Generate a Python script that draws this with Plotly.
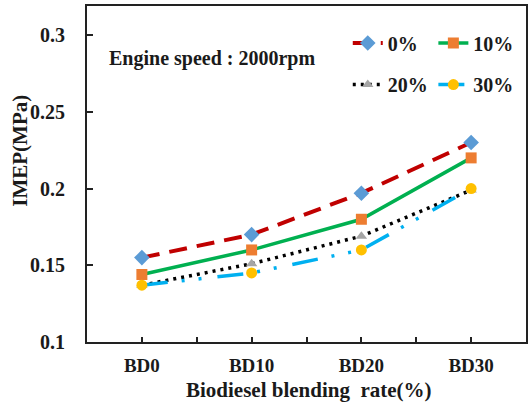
import plotly.graph_objects as go

# IMEP versus biodiesel blending rate at 2000 rpm, one series per additive ratio
categories = ["BD0", "BD10", "BD20", "BD30"]
series_names = ["0%", "10%", "20%", "30%"]
imep_0 = [0.155, 0.170, 0.197, 0.230]
imep_10 = [0.144, 0.160, 0.180, 0.220]
imep_20 = [0.137, 0.151, 0.169, 0.199]
imep_30 = [0.137, 0.145, 0.160, 0.200]
y_ticks = [0.1, 0.15, 0.2, 0.25, 0.3]
y_tick_labels = ["0.1", "0.15", "0.2", "0.25", "0.3"]

FONT = "Liberation Serif"
INK = "#1a1a1a"
x_pos = list(range(len(categories)))

styles = [
    dict(values=imep_0, line=dict(color="#C00000", width=4, dash="18px,10px"),
         marker=dict(symbol="diamond", size=12, color="#5B9BD5")),
    dict(values=imep_10, line=dict(color="#00B050", width=3.5, dash="solid"),
         marker=dict(symbol="square", size=11, color="#ED7D31")),
    dict(values=imep_20, line=dict(color="#000000", width=3.5, dash="3px,5px"),
         marker=dict(symbol="triangle-up", size=10, color="#A5A5A5")),
    dict(values=imep_30, line=dict(color="#00B0F0", width=3.5, dash="26px,14px,3px,14px,3px,16px"),
         marker=dict(symbol="circle", size=11, color="#FFC000")),
]

# Each series gets its own single-entry legend so the 2x2 key sits in the corner
legend_ids = ["legend", "legend2", "legend3", "legend4"]
legend_pos = [(0.594, 0.89), (0.789, 0.89), (0.594, 0.766), (0.789, 0.766)]

fig = go.Figure()
for name, st, lid in zip(series_names, styles, legend_ids):
    fig.add_trace(go.Scatter(
        x=x_pos, y=st["values"], name=name, mode="lines+markers",
        line=st["line"], marker=st["marker"], legend=lid,
    ))

legend_common = dict(
    font=dict(family=FONT, size=20, color=INK, weight="bold"),
    bgcolor="rgba(0,0,0,0)", borderwidth=0,
    xanchor="left", yanchor="middle", itemwidth=30,
)
layout_legends = {}
for lid, (lx, ly) in zip(legend_ids, legend_pos):
    layout_legends[lid] = dict(legend_common, x=lx, y=ly)

fig.update_layout(
    width=532, height=406,
    margin=dict(l=87, r=4, t=5, b=64),
    paper_bgcolor="white", plot_bgcolor="white",
    showlegend=True,
    **layout_legends,
    xaxis=dict(
        range=[-0.5, 3.5], tickvals=x_pos, ticktext=categories,
        ticks="inside", ticklen=5, tickwidth=1.5, tickcolor="#222",
        minor=dict(ticks="inside", dtick=0.5, tick0=-0.5, ticklen=5, tickwidth=1.5, tickcolor="#222"),
        showline=True, linecolor="#222", linewidth=2, mirror=True,
        showgrid=False, zeroline=False,
        tickfont=dict(family=FONT, size=19, color=INK, weight="bold"),
        ticklabelstandoff=5,
    ),
    yaxis=dict(
        range=[0.1, 0.319], tickvals=y_ticks, ticktext=y_tick_labels,
        ticks="inside", ticklen=6, tickwidth=1.5, tickcolor="#222",
        showline=True, linecolor="#222", linewidth=2, mirror=True,
        showgrid=False, zeroline=False,
        tickfont=dict(family=FONT, size=20, color=INK, weight="bold"),
        ticklabelstandoff=16,
    ),
    annotations=[
        dict(text="Engine speed\u00a0: 2000rpm", xref="paper", yref="paper",
             x=0.046, y=0.843, xanchor="left", yanchor="middle", showarrow=False,
             font=dict(family=FONT, size=20, color=INK, weight="bold")),
        dict(text="Biodiesel blending\u00a0 rate(%)", xref="paper", yref="paper",
             x=0.506, y=-0.142, xanchor="center", yanchor="middle", showarrow=False,
             font=dict(family=FONT, size=21, color=INK, weight="bold")),
        dict(text="IMEP(MPa)", xref="paper", yref="paper", textangle=-90,
             x=-0.152, y=0.57, xanchor="center", yanchor="middle", showarrow=False,
             font=dict(family=FONT, size=21, color=INK, weight="bold")),
    ],
)

fig.write_html("out.html")
